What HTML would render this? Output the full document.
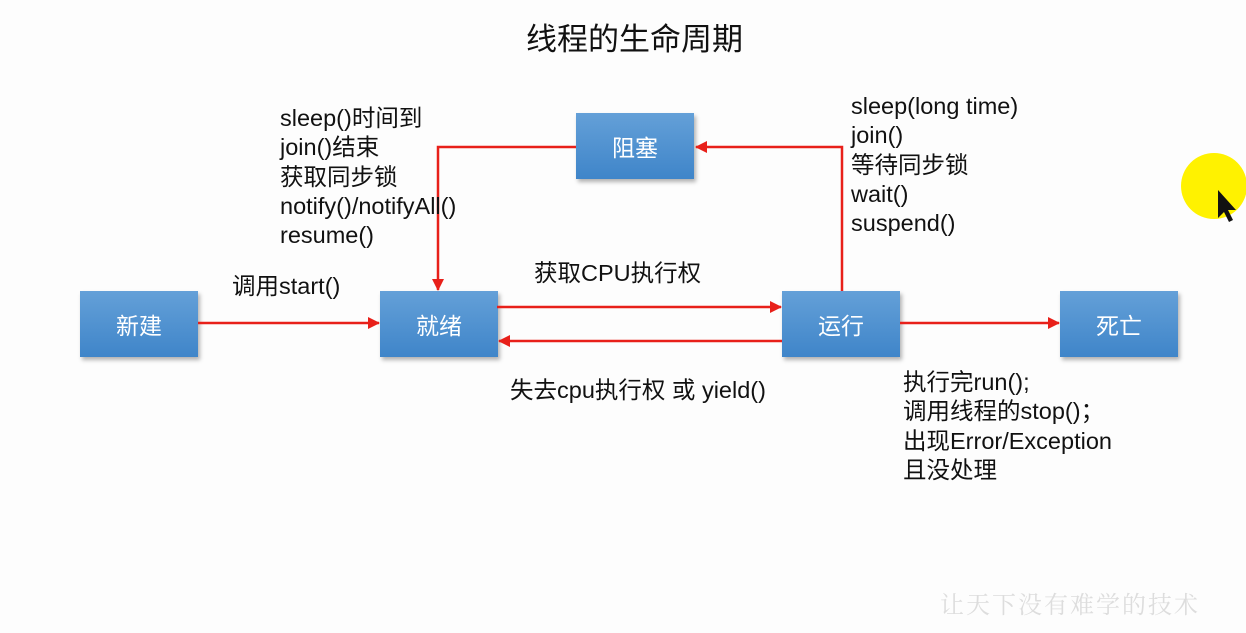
<!DOCTYPE html>
<html><head><meta charset="utf-8"><style>
body{margin:0;width:1246px;height:633px;background:#fdfdfd;position:relative;overflow:hidden;font-family:"Liberation Sans","Noto Sans CJK SC",sans-serif;color:#111}
.b{position:absolute;width:118px;height:66px;background:linear-gradient(#64a0d8,#3f85c9);box-shadow:2px 3px 4px rgba(0,0,0,.3);color:#fff;font-size:23px;display:flex;align-items:center;justify-content:center}
.t{position:absolute;font-size:23.5px;line-height:29.3px;white-space:nowrap}
</style></head><body>
<div class="t" style="left:526px;top:20px;font-size:31px;line-height:40px">线程的生命周期</div>
<div class="b" style="left:80px;top:291px">新建</div>
<div class="b" style="left:380px;top:291px">就绪</div>
<div class="b" style="left:576px;top:113px">阻塞</div>
<div class="b" style="left:782px;top:291px">运行</div>
<div class="b" style="left:1060px;top:291px">死亡</div>
<svg width="1246" height="633" style="position:absolute;left:0;top:0">
<defs><marker id="a" markerWidth="12" markerHeight="12" refX="11" refY="6" orient="auto" markerUnits="userSpaceOnUse"><path d="M0,0L12,6L0,12z" fill="#e8201a"/></marker></defs>
<g stroke="#e8201a" stroke-width="2.5" fill="none" marker-end="url(#a)">
<path d="M198,323H379"/>
<path d="M497,307H781"/>
<path d="M782,341H499"/>
<path d="M842,291V147H696"/>
<path d="M576,147H438V290"/>
<path d="M900,323H1059"/>
</g>
<circle cx="1214" cy="186" r="33" fill="#fff200"/>
<path d="M1218,190l0,28l6,-6l5,10l4,-2l-5,-10l8,0z" fill="#111"/>
</svg>
<div class="t" style="left:280px;top:104px">sleep()时间到<br>join()结束<br>获取同步锁<br>notify()/notifyAll()<br>resume()</div>
<div class="t" style="left:851px;top:92px">sleep(long time)<br>join()<br>等待同步锁<br>wait()<br>suspend()</div>
<div class="t" style="left:232px;top:272px">调用start()</div>
<div class="t" style="left:534px;top:259px">获取CPU执行权</div>
<div class="t" style="left:510px;top:376px">失去cpu执行权 或 yield()</div>
<div class="t" style="left:903px;top:368px">执行完run();<br>调用线程的stop()；<br>出现Error/Exception<br>且没处理</div>
<div class="t" style="left:940px;top:588px;color:#ddd;font-size:24px;font-family:'Noto Serif CJK SC',serif;letter-spacing:2px">让天下没有难学的技术</div>
</body></html>
